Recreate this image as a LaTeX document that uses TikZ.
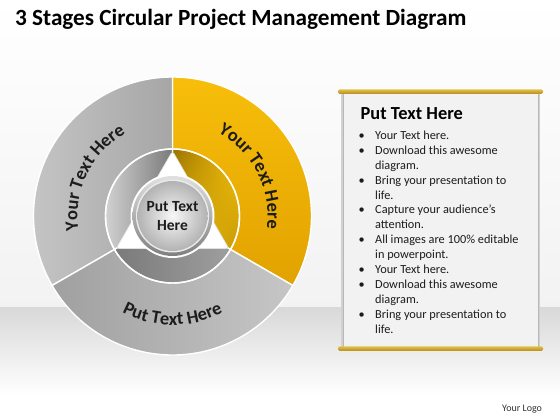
\documentclass[tikz,border=0pt]{standalone}
\usepackage{fontspec}
\setmainfont{Carlito}
\usetikzlibrary{decorations.text,calc,shadings}
\definecolor{yelA}{HTML}{F7BE0A}
\definecolor{yelB}{HTML}{E2A200}
\definecolor{yelDark}{HTML}{9A7200}
\definecolor{yelBright}{HTML}{F6C30C}
\definecolor{yelLow}{HTML}{C89A06}
\definecolor{greyL1}{HTML}{C4C4C4}
\definecolor{greyL2}{HTML}{A6A6A6}
\definecolor{greyB1}{HTML}{A0A0A0}
\definecolor{greyB2}{HTML}{C6C6C6}
\definecolor{goldA}{HTML}{E2BC48}
\definecolor{goldB}{HTML}{B48C1E}
\definecolor{inkc}{HTML}{1C1C1C}
\newcommand{\seglab}{\bfseries\fontsize{18.5}{20}\selectfont}
\tikzset{
  segline/.style={draw=white, line width=1.4pt},
  listtxt/.style={anchor=base west, inner sep=0pt, text=inkc, font=\fontsize{12.3}{14}\selectfont},
  curvedlab/.style={decorate, decoration={text along path, text={|\seglab|#1}, text align=center, text color=inkc}}
}
\begin{document}
\begin{tikzpicture}[x=1pt,y=1pt]
\useasboundingbox (0,0) rectangle (560,420);
% background
\fill[white] (0,0) rectangle (560,420);
\shade[top color=white, bottom color=black!5] (0,112) rectangle (560,420);
\shade[top color=black!15, bottom color=white] (0,25) rectangle (560,112);

% title
\node[anchor=base west, inner sep=0pt, text=black, font=\bfseries\fontsize{23.2}{27}\selectfont] (title) at (15,394) {3 Stages Circular Project Management Diagram};

% circle diagram
\coordinate (c) at (172.5,204);
\def\R{139}
\def\r{67}
% outer segments
\shadedraw[segline, top color=yelA, bottom color=yelB] (c) -- ($(c)+(90:\R)$) arc[start angle=90, end angle=-30, radius=\R] -- cycle;
\shadedraw[segline, left color=greyL1, right color=greyL2] (c) -- ($(c)+(90:\R)$) arc[start angle=90, end angle=210, radius=\R] -- cycle;
\shadedraw[segline, left color=greyB1, right color=greyB2] (c) -- ($(c)+(210:\R)$) arc[start angle=210, end angle=330, radius=\R] -- cycle;

% inner ring
\shadedraw[segline, upper left=yelDark, upper right=yelBright, lower left=yelBright, lower right=yelLow] (c) -- ($(c)+(90:\r)$) arc[start angle=90, end angle=-30, radius=\r] -- cycle;
\shadedraw[segline, left color=black!18, right color=black!52] (c) -- ($(c)+(90:\r)$) arc[start angle=90, end angle=210, radius=\r] -- cycle;
\shadedraw[segline, left color=black!52, middle color=black!15, right color=black!38] (c) -- ($(c)+(210:\r)$) arc[start angle=210, end angle=330, radius=\r] -- cycle;
\draw[white, line width=1.4pt] (c) circle[radius=\r];

% white triangle
\filldraw[fill=white, draw=black!12, line width=0.6pt, rounded corners=3pt] ($(c)+(90:65)$) -- ($(c)+(210:65)$) -- ($(c)+(330:65)$) -- cycle;

% hub
\fill[white] (c) circle[radius=42];
\shade[top color=black!12, bottom color=black!50] (c) circle[radius=40];
\fill[black!8] (c) circle[radius=36.5];
\shade[inner color=black!3, outer color=black!30] (c) circle[radius=35];
\node[align=center, inner sep=0pt, text=inkc, font=\bfseries\fontsize{15.5}{18.5}\selectfont] (hub) at (c) {Put Text\\Here};

% segment labels
\path[curvedlab={Your Text Here}] ($(c)+(214:95)$) arc[start angle=214, end angle=94, radius=95];
\path[curvedlab={Your Text Here}] ($(c)+(87:95)$) arc[start angle=87, end angle=-33, radius=95];
\path[curvedlab={Put Text Here}] ($(c)+(210:109)$) arc[start angle=210, end angle=330, radius=109];

% text panel
\fill[black!18] (341,70) rectangle (540,328);
\node[draw=black!28, line width=1pt, fill=black!5, minimum width=195pt, minimum height=255pt, inner sep=0pt, anchor=north west] (panel) at (343,327) {};
\shade[top color=goldA, bottom color=goldB, rounded corners=1.5pt] (338,326) rectangle (543,330.5);
\shade[top color=goldA, bottom color=goldB, rounded corners=1.5pt] (338,69) rectangle (543,73.5);

\node[anchor=base west, inner sep=0pt, text=black, font=\bfseries\fontsize{18.4}{21}\selectfont] (head) at (360.5,300) {Put Text Here};

\foreach \b/\t [count=\i] in {1/Your Text here., 1/Download this awesome, 0/diagram., 1/Bring your presentation to, 0/life., 1/Capture your audience’s, 0/attention., 1/All images are 100\% editable, 0/in powerpoint., 1/Your Text here., 1/Download this awesome, 0/diagram., 1/Bring your presentation to, 0/life.}{
  \node[listtxt] (l\i) at (375,{280.5-(\i-1)*14.9}) {\t};
  \ifnum\b=1
    \node[listtxt] (b\i) at (358.5,{280.5-(\i-1)*14.9}) {•};
  \fi
}

% logo
\node[anchor=base west, inner sep=0pt, text=black!80, font=\fontsize{10}{12}\selectfont] (logo) at (502,8.5) {Your Logo};
\end{tikzpicture}
\end{document}
